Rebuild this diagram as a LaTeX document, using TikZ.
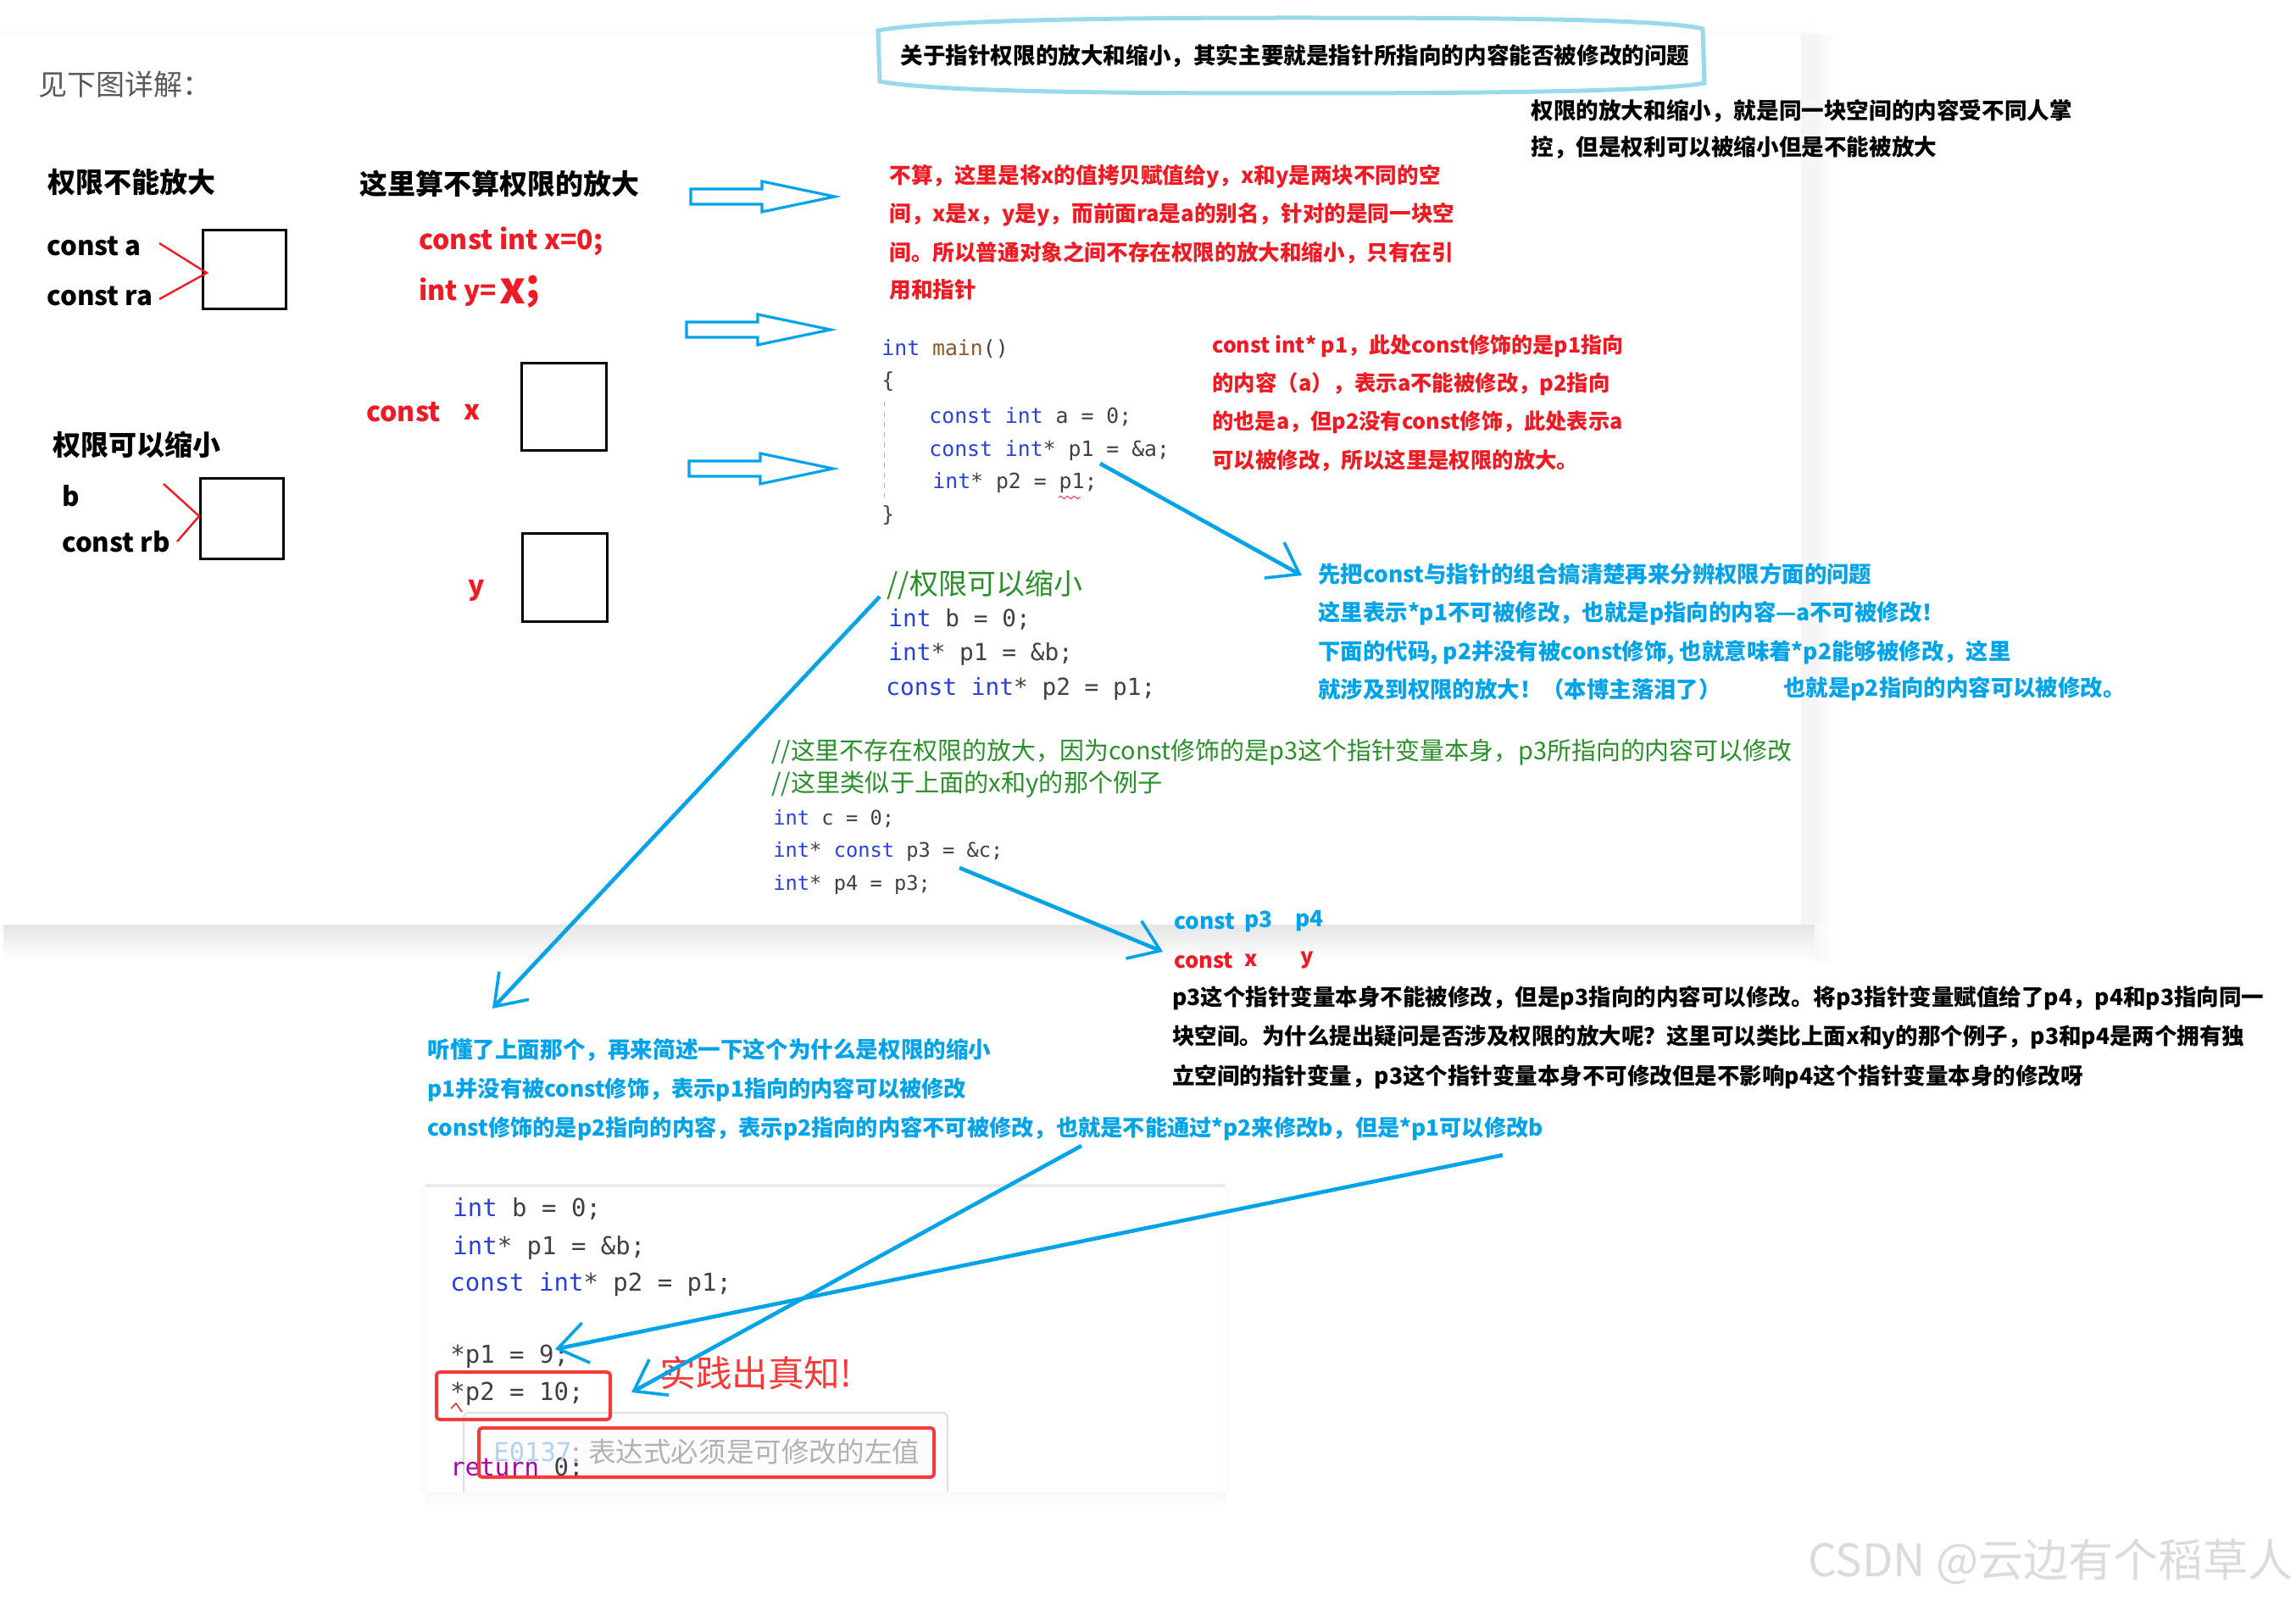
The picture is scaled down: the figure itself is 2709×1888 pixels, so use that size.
\documentclass[tikz,border=0pt]{standalone}
\usepackage{fontspec}
\setmainfont{Noto Sans CJK SC}
\setmonofont{DejaVu Sans Mono}
\usetikzlibrary{arrows.meta,decorations.pathmorphing}
\definecolor{paintblue}{HTML}{00A2E8}
\definecolor{paintred}{HTML}{ED1C24}
\definecolor{markred}{HTML}{F53A3A}
\definecolor{cmtgreen}{HTML}{2A8F2A}
\definecolor{kwblue}{HTML}{2B3FDC}
\definecolor{calloutblue}{HTML}{9AD8EC}
\definecolor{errblue}{HTML}{B4D2EE}
\newcommand{\kw}[1]{\textcolor{kwblue}{#1}}
\tikzset{
  txt/.style={anchor=west,inner sep=0pt},
  blacktxt/.style={txt,font=\fontsize{13.3}{16}\selectfont\bfseries,text=black},
  redtxt/.style={txt,font=\fontsize{12.8}{16}\selectfont\bfseries,text=paintred},
  bluetxt/.style={txt,font=\fontsize{13.2}{16}\selectfont\bfseries,text=paintblue},
  headtxt/.style={txt,font=\fontsize{16.5}{18}\selectfont\bfseries,text=black},
  sketchtxt/.style={txt,font=\fontsize{15.6}{18}\selectfont\bfseries,text=black},
  sketchred/.style={sketchtxt,font=\fontsize{16}{18}\selectfont\bfseries,text=paintred},
  cmt/.style={txt,font=\fontsize{14.5}{16}\selectfont,text=cmtgreen},
  code/.style={txt,font=\fontsize{#1}{16}\selectfont\ttfamily,text=black!75},
  cell/.style={draw=black,line width=1.6pt},
  redmark/.style={draw=paintred,line width=1.2pt},
  hollow/.style={draw=paintblue,line width=1.6pt,fill=white,line join=miter},
  penarrow/.style={draw=paintblue,line width=2.3pt,-{Straight Barb[length=17pt,width=24pt,line width=1.8pt]}},
  errbox/.style={draw=markred,line width=2pt,rounded corners=2pt}
}
\begin{document}
\begin{tikzpicture}[x=0.5pt,y=-0.5pt]
  \useasboundingbox (0,0) rectangle (2709,1888);
  % the page behind
  \shade[top color=white,bottom color=black!2] (0,25) rectangle (2141,41);
  \shade[top color=black!10,bottom color=white] (4,1091) rectangle (2141,1135);
  \fill[black!4] (2125,41) rectangle (2141,1091);
  \shade[left color=black!4,right color=white] (2141,41) rectangle (2165,1091);
  \shade[left color=black!3,right color=white] (2141,1091) rectangle (2165,1135);
  \fill[white] (4,41) rectangle (2125,1091);

  \node[txt,font=\fontsize{17}{18}\selectfont,text=black!65] (intro) at (45,100) {见下图详解：};

  % left column
  \node[headtxt] (shrinkno) at (56,215) {权限不能放大};
  \node[sketchtxt] (ca) at (55,290) {const a};
  \node[sketchtxt] (cra) at (55,349) {const ra};
  \node[cell,minimum width=49pt,minimum height=46.5pt,inner sep=0pt,anchor=north west] (boxa) at (238,270) {};
  \coordinate (ja) at (244,322);
  \draw[redmark] (188,287) -- (ja) -- (188,353);

  \node[headtxt] (shrinkyes) at (62,525) {权限可以缩小};
  \node[sketchtxt] (bb) at (73,585) {b};
  \node[sketchtxt] (crb) at (73,639) {const rb};
  \node[cell,minimum width=49pt,minimum height=47.5pt,inner sep=0pt,anchor=north west] (boxb) at (235,563) {};
  \coordinate (jb) at (235,609);
  \draw[redmark] (193,571) -- (jb) -- (209,639);

  % middle column
  \node[headtxt] (askhead) at (424,217) {这里算不算权限的放大};
  \node[sketchred] (cix) at (494,285) {const int x=0;};
  \node[sketchred] (iy) at (494,345) {int y=};
  \node[sketchred,font=\fontsize{26}{26}\selectfont\bfseries] (bigx) at (589,344) {x};
  \node[sketchred,font=\fontsize{24}{24}\selectfont\bfseries] (semi) at (620,344) {;};
  \node[sketchred] (cst) at (432,486) {const};
  \node[sketchred] (xx) at (547,486) {x};
  \node[sketchred] (yy) at (552,697) {y};
  \node[cell,minimum width=50pt,minimum height=51.5pt,inner sep=0pt,anchor=north west] (boxx) at (614,427) {};
  \node[cell,minimum width=50pt,minimum height=52pt,inner sep=0pt,anchor=north west] (boxy) at (615,628) {};

  % hollow arrows
  \foreach \x/\y in {815/232,810/389,813/553}
    \draw[hollow] (\x,\y-9) -- ++(84,0) -- ++(0,-9) -- (\x+170,\y) -- (\x+84,\y+18) -- ++(0,-9) -- (\x,\y+9) -- cycle;

  % callout
  \draw[draw=calloutblue,line width=2.5pt,fill=white] (1036,36) .. controls (1100,24) and (1300,21) .. (1522,21)
    .. controls (1750,21) and (1960,22) .. (2009,34) -- (2011,98)
    .. controls (1960,108) and (1750,110) .. (1522,110) .. controls (1300,110) and (1100,108) .. (1038,96) -- cycle;
  \node[blacktxt] (calltxt) at (1062,66) {关于指针权限的放大和缩小，其实主要就是指针所指向的内容能否被修改的问题};
  \node[blacktxt] (ownA) at (1806,131) {权限的放大和缩小，就是同一块空间的内容受不同人掌};
  \node[blacktxt] (ownB) at (1806,174) {控，但是权利可以被缩小但是不能被放大};

  \node[redtxt] (noA) at (1049,208) {不算，这里是将x的值拷贝赋值给y，x和y是两块不同的空};
  \node[redtxt] (noB) at (1049,253) {间，x是x，y是y，而前面ra是a的别名，针对的是同一块空};
  \node[redtxt] (noC) at (1049,298) {间。所以普通对象之间不存在权限的放大和缩小，只有在引};
  \node[redtxt] (noD) at (1049,342) {用和指针};

  % first code
  \node[code=12.4] (mainl) at (1040,412) {\kw{int} \textcolor{brown!70!black}{main}()};
  \node[code=12.4] (open) at (1040,450) {\{};
  \node[code=12.4] (la) at (1096,492) {\kw{const int} a = 0;};
  \node[code=12.4] (lb) at (1096,532) {\kw{const int}* p1 = \&a;};
  \node[code=12.4] (lc) at (1100,570) {\kw{int}* p2 = p1;};
  \node[code=12.4] (close) at (1040,608) {\}};
  \draw[black!30,dashed] (1043,474) -- (1043,587);
  \coordinate (wavea) at (1249,587);
  \coordinate (waveb) at (1275,587);
  \draw[paintred,decorate,decoration={snake,amplitude=0.8pt,segment length=4pt}] (wavea) -- (waveb);

  \node[redtxt,font=\fontsize{12.5}{16}\selectfont\bfseries] (nA) at (1430,408) {const int* p1，此处const修饰的是p1指向};
  \node[redtxt,font=\fontsize{12.7}{16}\selectfont\bfseries] (nB) at (1430,453) {的内容（a），表示a不能被修改，p2指向};
  \node[redtxt,font=\fontsize{12.6}{16}\selectfont\bfseries] (nC) at (1430,498) {的也是a，但p2没有const修饰，此处表示a};
  \node[redtxt,font=\fontsize{12.7}{16}\selectfont\bfseries] (nD) at (1430,543) {可以被修改，所以这里是权限的放大。};

  \node[bluetxt] (tA) at (1555,677) {先把const与指针的组合搞清楚再来分辨权限方面的问题};
  \node[bluetxt] (tB) at (1555,724) {这里表示*p1不可被修改，也就是p指向的内容—a不可被修改！};
  \node[bluetxt] (tC) at (1555,770) {下面的代码, p2并没有被const修饰, 也就意味着*p2能够被修改，这里};
  \node[bluetxt] (tD) at (1555,813) {就涉及到权限的放大！（本博主落泪了）};
  \node[bluetxt] (tE) at (2104,813) {也就是p2指向的内容可以被修改。};

  % second code
  \node[cmt,font=\fontsize{17}{17}\selectfont] (cmA) at (1046,690) {//权限可以缩小};
  \node[code=13.9] (sa) at (1048,731) {\kw{int} b = 0;};
  \node[code=13.9] (sb) at (1048,772) {\kw{int}* p1 = \&b;};
  \node[code=13.9] (sc) at (1045,813) {\kw{const int}* p2 = p1;};

  % third code
  \node[cmt,font=\fontsize{14.45}{16}\selectfont] (cmB) at (910,888) {//这里不存在权限的放大，因为const修饰的是p3这个指针变量本身，p3所指向的内容可以修改};
  \node[cmt,font=\fontsize{14.6}{16}\selectfont] (cmC) at (910,926) {//这里类似于上面的x和y的那个例子};
  \node[code=11.85] (pa) at (912,966) {\kw{int} c = 0;};
  \node[code=11.85] (pb) at (912,1005) {\kw{int}* \kw{const} p3 = \&c;};
  \node[code=11.85] (pc) at (912,1044) {\kw{int}* p4 = p3;};

  \node[bluetxt] (lst) at (1385,1087) {const};
  \node[bluetxt] (lp3) at (1468,1087) {p3};
  \node[bluetxt] (lp4) at (1528,1087) {p4};
  \node[redtxt] (lcx) at (1385,1133) {const};
  \node[redtxt] (lx) at (1468,1133) {x};
  \node[redtxt] (ly) at (1534,1133) {y};

  \node[blacktxt,font=\fontsize{13.25}{16}\selectfont\bfseries] (pA) at (1383,1178) {p3这个指针变量本身不能被修改，但是p3指向的内容可以修改。将p3指针变量赋值给了p4，p4和p3指向同一};
  \node[blacktxt,font=\fontsize{13.25}{16}\selectfont\bfseries] (pB) at (1383,1224) {块空间。为什么提出疑问是否涉及权限的放大呢？这里可以类比上面x和y的那个例子，p3和p4是两个拥有独};
  \node[blacktxt,font=\fontsize{13.25}{16}\selectfont\bfseries] (pC) at (1383,1271) {立空间的指针变量，p3这个指针变量本身不可修改但是不影响p4这个指针变量本身的修改呀};

  \node[bluetxt,font=\fontsize{13.3}{16}\selectfont\bfseries] (sA) at (504,1239) {听懂了上面那个，再来简述一下这个为什么是权限的缩小};
  \node[bluetxt,font=\fontsize{13.1}{16}\selectfont\bfseries] (sB) at (504,1286) {p1并没有被const修饰，表示p1指向的内容可以被修改};
  \node[bluetxt,font=\fontsize{13.12}{16}\selectfont\bfseries] (sC) at (504,1332) {const修饰的是p2指向的内容，表示p2指向的内容不可被修改，也就是不能通过*p2来修改b，但是*p1可以修改b};

  % the small screenshot
  \shade[top color=black!3,bottom color=white] (502,1760) rectangle (1446,1780);
  \fill[black!1.5] (495,1401) rectangle (502,1760);
  \fill[black!1.5] (1446,1401) rectangle (1453,1760);
  \fill[white] (502,1397) rectangle (1446,1760);
  \fill[black!8] (502,1397) rectangle (1446,1401);
  \draw[black!12,line width=1pt,fill=blue!1!white,rounded corners=3pt] (547,1760) -- (547,1667) -- (1118,1667) -- (1118,1760);
  \node[code=14.5] (ea) at (534,1427) {\kw{int} b = 0;};
  \node[code=14.5] (eb) at (534,1472) {\kw{int}* p1 = \&b;};
  \node[code=14.5] (ec) at (531,1515) {\kw{const int}* p2 = p1;};
  \node[code=14.5] (ed) at (531,1601) {*p1 = 9;};
  \node[code=14.5] (ee) at (531,1645) {*p2 = 10;};
  \node[code=14.5] (ef) at (531,1733) {\textcolor{violet!70!magenta}{return} 0;};
  \coordinate (hata) at (532,1662);
  \coordinate (hatb) at (538,1656);
  \coordinate (hatc) at (545,1666);
  \draw[paintred,line width=0.7pt] (hata) -- (hatb) -- (hatc);
  \node[txt,font=\fontsize{15.3}{18}\selectfont\ttfamily,text=errblue] (ecode) at (582,1713) {E0137};
  \node[txt,font=\fontsize{16.3}{18}\selectfont,text=black!30] (emsg) at (675,1713) {: 表达式必须是可修改的左值};
  \node[errbox,minimum width=102.5pt,minimum height=28pt,inner sep=0pt,anchor=north west] (errA) at (513,1617) {};
  \node[errbox,minimum width=268.5pt,minimum height=29pt,inner sep=0pt,anchor=north west] (errB) at (563,1683) {};
  \node[txt,font=\fontsize{21.3}{22}\selectfont,text=markred] (prac) at (778,1620) {实践出真知!};

  % pen arrows
  \coordinate (fa) at (1298,547);  \coordinate (ta) at (1536,679);
  \coordinate (fb) at (1038,704);  \coordinate (tb) at (581,1190);
  \coordinate (fc) at (1132,1024); \coordinate (tc) at (1372,1123);
  \coordinate (fd) at (1276,1352); \coordinate (td) at (745,1643);
  \coordinate (fe) at (1773,1363); \coordinate (te) at (655,1592);
  \draw[penarrow] (fa) -- (ta);
  \draw[penarrow] (fb) -- (tb);
  \draw[penarrow] (fc) -- (tc);
  \draw[penarrow] (fd) -- (td);
  \draw[penarrow] (fe) -- (te);

  \node[txt,font=\fontsize{26.5}{28}\selectfont,text=black!14] (mark) at (2133,1843) {CSDN @云边有个稻草人};
\end{tikzpicture}
\end{document}
